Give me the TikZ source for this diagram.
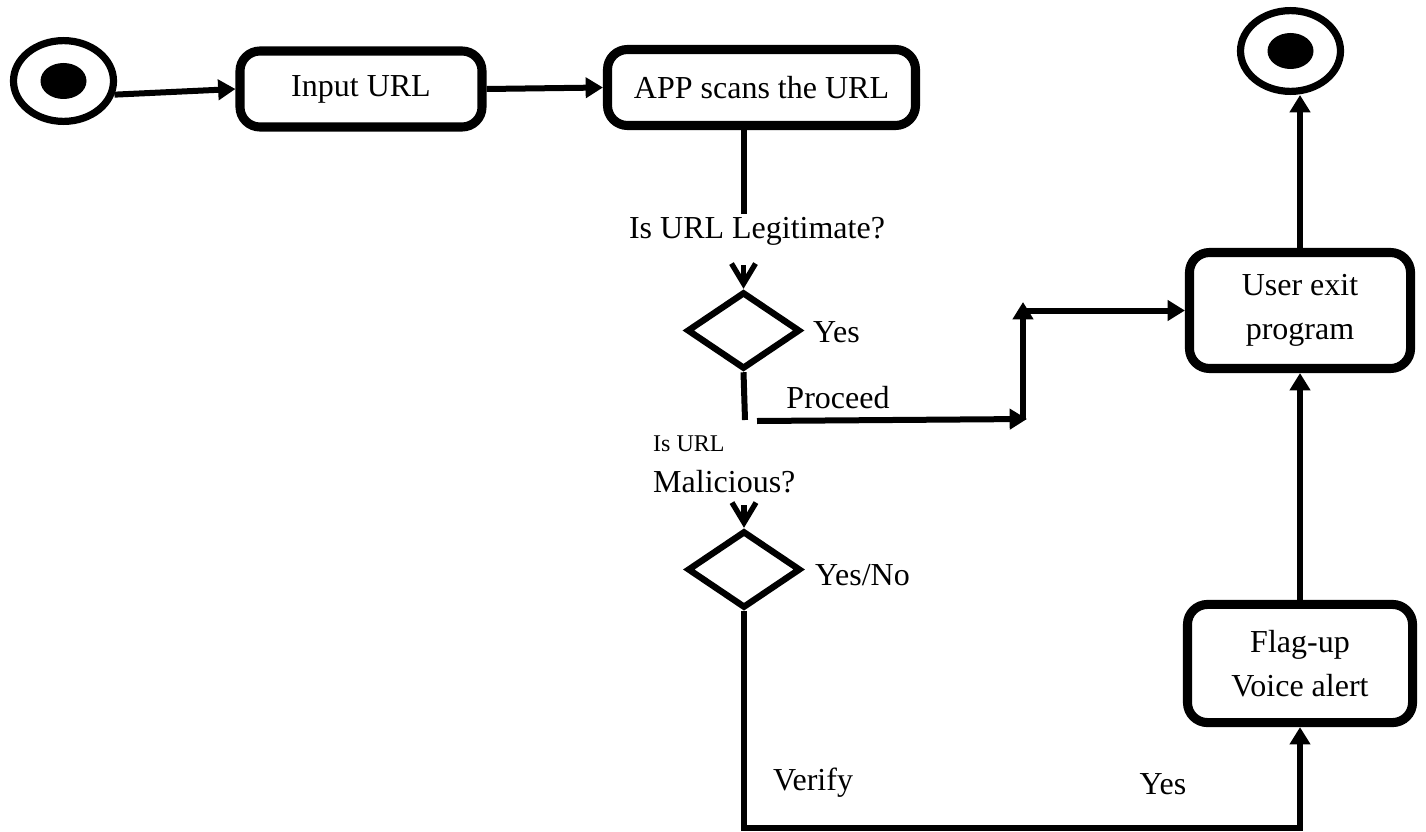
\documentclass[tikz,border=0pt]{standalone}
\usepackage{fontspec}
\setmainfont{Liberation Serif}
\usetikzlibrary{shapes.geometric,arrows.meta}

\begin{document}
\begin{tikzpicture}[x=0.375pt,y=-0.375pt,
    actbox/.style={draw,line width=3.4pt,rounded corners=7.5pt,align=center,inner sep=0pt,font=\fontsize{12}{16.5}\selectfont},
    decide/.style={draw,diamond,line width=2.4pt,inner sep=0pt,minimum width=42.4pt,minimum height=28.9pt},
    ring/.style={draw,ellipse,line width=2.7pt,inner sep=0pt,minimum width=37.5pt,minimum height=30.3pt},
    blob/.style={fill,ellipse,inner sep=0pt,minimum width=17.25pt,minimum height=13.5pt},
    lbl/.style={font=\fontsize{12}{14}\selectfont,inner sep=1pt},
    wire/.style={line width=2.25pt},
    arr/.style={line width=2.25pt,-{Triangle[length=6.5pt,width=7.5pt]}},
    barb/.style={line width=2pt,-{Straight Barb[length=7.5pt,width=9pt]}}]
    \useasboundingbox (0,0) rectangle (1426,831);

    \node[ring] (start) at (63.5,81) {};
    \node[blob] (startdot) at (start.center) {};
    \node[actbox,minimum width=90.75pt,minimum height=28.5pt] (input) at (361,89) {Input URL};
    \node[actbox,minimum width=115.5pt,minimum height=28.5pt] (app) at (761.5,87.5) {APP scans the URL};
    \node[lbl] (legit) at (757,231) {Is URL Legitimate?};
    \node[decide] (d1) at (743.5,330.5) {};
    \node[lbl,anchor=west] (yes1) at (810,332) {Yes};
    \node[lbl] (proceed) at (838,398) {Proceed};
    \node[lbl,font=\fontsize{9}{11}\selectfont,anchor=west] (isurl) at (650,444) {Is URL};
    \node[lbl,anchor=west] (malic) at (650,482) {Malicious?};
    \node[decide] (d2) at (744,569.5) {};
    \node[lbl,anchor=west] (yesno) at (812,575) {Yes/No};
    \node[lbl] (verify) at (813,783) {Verify};
    \node[lbl] (yes2) at (1163,784) {Yes};
    \node[actbox,minimum width=82.9pt,minimum height=43.5pt] (exit) at (1300,310.5) {User exit\\program};
    \node[actbox,minimum width=84.4pt,minimum height=44.3pt] (flag) at (1300,663.5) {Flag-up\\Voice alert};
    \node[ring] (endst) at (1290.5,51) {};
    \node[blob] (enddot) at (endst.center) {};

    \coordinate (q1) at (743.5,265);
    \coordinate (p1) at (745,420);
    \coordinate (p2) at (757,421);
    \coordinate (p3) at (1027,419);
    \coordinate (p4) at (1023,420);
    \coordinate (p5) at (1023,302);
    \coordinate (q2) at (744,505);
    \coordinate (p6) at (744,828);

    \draw[arr] (start.-15) -- (input.west);
    \draw[arr] (input.east) -- (app.west);
    \draw[wire] (app.south -| d1) -- (legit.north -| d1);
    \draw[barb] (q1) -- (d1.north);
    \draw[wire] (d1.south) -- (p1);
    \draw[arr] (p2) -- (p3);
    \draw[arr] (p4) -- (p5);
    \draw[arr] (p4 |- exit.west) -- (exit.west);
    \draw[arr] (exit.north) -- (exit.north |- endst.south);
    \draw[arr] (flag.north) -- (exit.south);
    \draw[barb] (q2) -- (d2.north);
    \draw[arr] (d2.south) -- (p6) -- (p6 -| flag.south) -- (flag.south);
\end{tikzpicture}
\end{document}
